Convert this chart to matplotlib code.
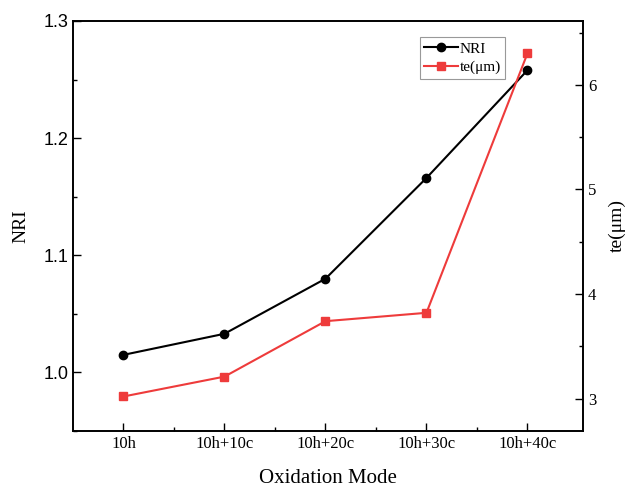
import matplotlib.pyplot as plt

modes = ["10h", "10h+10c", "10h+20c", "10h+30c", "10h+40c"]
nri = [1.015, 1.033, 1.080, 1.166, 1.258]
te = [3.02, 3.21, 3.74, 3.82, 6.30]

serif = "Liberation Serif"
sans = "Liberation Sans"
red = "#EE3B3B"

fig = plt.figure(figsize=(6.27, 4.9), dpi=100)
ax = fig.add_axes([73 / 627, 1 - 431 / 490, 510 / 627, 410 / 490])
x = list(range(len(modes)))

l1, = ax.plot(x, nri, color="black", marker="o", markersize=6, linewidth=1.5, label="NRI")
ax.set_ylim(0.95, 1.3)
ax.set_xlim(-0.5, 4.55)
ax.set_yticks([1.0, 1.1, 1.2, 1.3])
ax.set_yticks([0.95, 1.05, 1.15, 1.25], minor=True)
ax.set_xticks(x)
ax.set_xticklabels(modes, fontfamily=serif, fontsize=12)
ax.set_xticks([i + 0.5 for i in x[:-1]], minor=True)
for lab in ax.get_yticklabels():
    lab.set_fontfamily(sans)
    lab.set_fontsize(13)
ax.tick_params(which="both", direction="in", top=False, right=False)
ax.tick_params(which="major", length=6, width=1)
ax.tick_params(which="minor", length=3, width=1)
ax.set_xlabel("Oxidation Mode", fontfamily=serif, fontsize=15, labelpad=12)
ax.set_ylabel("NRI", fontfamily=serif, fontsize=14, labelpad=10)
for s in ax.spines.values():
    s.set_linewidth(1.2)

ax2 = ax.twinx()
l2, = ax2.plot(x, te, color=red, marker="s", markersize=6, linewidth=1.5, label="te(μm)")
ax2.set_ylim(2.69, 6.61)
ax2.set_yticks([3, 4, 5, 6])
ax2.set_yticks([3.5, 4.5, 5.5, 6.5], minor=True)
for lab in ax2.get_yticklabels():
    lab.set_fontfamily(serif)
    lab.set_fontsize(12)
ax2.tick_params(which="both", direction="in")
ax2.tick_params(which="major", length=6, width=1)
ax2.tick_params(which="minor", length=3, width=1)
ax2.set_ylabel("te(μm)", fontfamily=serif, fontsize=14, labelpad=9)
for s in ax2.spines.values():
    s.set_linewidth(1.2)

leg = ax2.legend(handles=[l1, l2], loc="upper left", bbox_to_anchor=(0.68, 0.96),
                 prop={"family": serif, "size": 11}, fancybox=False, edgecolor="gray",
                 handlelength=2.2, handletextpad=0.1, borderpad=0.3, labelspacing=0.3,
                 borderaxespad=0)
leg.get_frame().set_linewidth(0.8)

fig.savefig("out.png", dpi=100)
